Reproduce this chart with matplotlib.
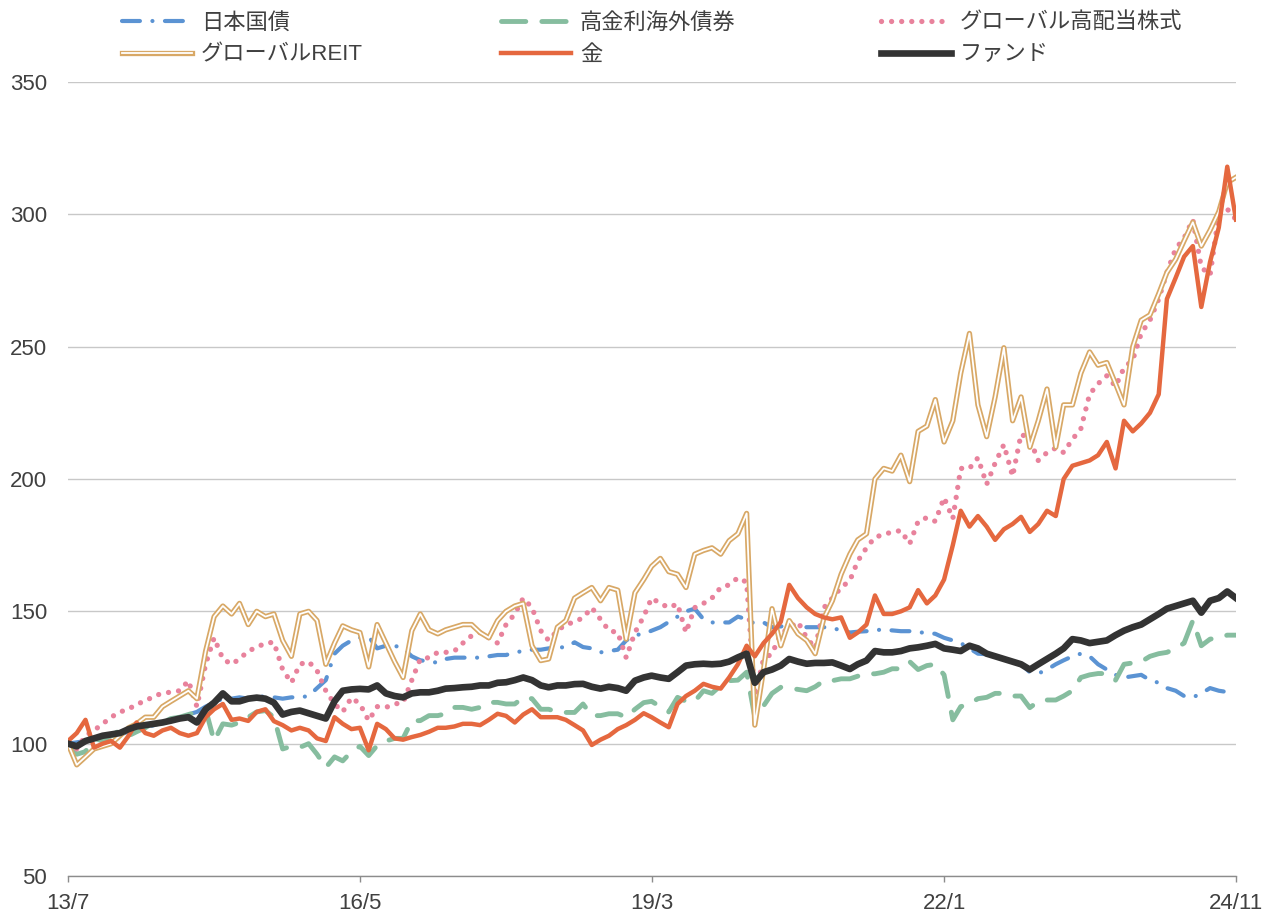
import matplotlib
matplotlib.use("Agg")
import matplotlib.pyplot as plt
import matplotlib.patheffects as pe
import pandas as pd

plt.rcParams['font.family'] = ['Liberation Sans', 'Noto Sans CJK JP']

# 月次データ（2013/7 = 100）
dates = pd.date_range('2013-07-01', periods=137, freq='MS')

jgb = [100, 100.5, 101, 101.5, 102, 103, 103.5, 104.5, 105.5, 106, 107, 108,
       108.5, 110, 111, 112, 114, 115.5, 117, 117, 117.5, 117, 117.5, 118,
       117.5, 117, 117.5, 117.5, 118, 121, 124, 134, 137, 139, 140, 140.5,
       136, 137, 137, 136, 133, 131.5, 131, 130.6, 132, 132.5, 132.5, 132.5,
       132.5, 133, 133.5, 133.5, 134.5, 135, 135.5, 135.5, 136, 136.4, 136.4, 138.3,
       136.5, 136, 134.5, 135, 135.5, 139, 141, 141.5, 142.7, 144, 146, 148,
       150, 151, 147, 145.8, 145.8, 145.8, 148, 147, 145.3, 145.8, 144, 144.3,
       144.5, 144.2, 144, 144, 144, 143.5, 143, 142, 142.3, 142.5, 143, 143,
       142.8, 142.5, 142.5, 142, 142, 141.5, 140, 139, 138, 136, 134, 133.8,
       133, 132, 131, 130, 127, 126.5, 128, 130, 131.5, 133, 134, 133,
       130, 128, 126, 125, 125.5, 126, 124, 123, 121, 120, 118, 117.5,
       119, 121, 120, 119.5, 119]

hy_bond = [100, 96, 97, 102, 101, 103, 105, 103, 104.5, 106, 108, 108,
           109.5, 110, 111, 112, 113, 101, 107.5, 107, 108, 110, 112, 112.5,
           110, 98, 99, 98.6, 100, 96, 91, 95, 93.5, 97, 99, 95.5,
           99.3, 101, 102, 102, 108.7, 108.7, 110.6, 110.6, 111.3, 113.7, 113.7, 113,
           113.7, 115.6, 115.6, 115, 115, 117.5, 117, 113, 113, 112, 111.8, 111.8,
           115, 110.6, 110.6, 111.3, 111.3, 110, 113, 115.5, 116, 114, 112, 117.5,
           116, 116, 120, 119, 122, 123.8, 124, 127, 110, 114.3, 119, 121.3,
           121, 120.5, 120, 121.5, 123.8, 123.8, 124.5, 124.5, 125.5, 126.4, 126.4, 127,
           128.3, 128.3, 131, 128, 129.5, 130, 126, 109, 114, 115, 117, 117.5,
           119, 119, 118, 118, 113.6, 116, 116.5, 116.5, 118, 120, 125, 126,
           126.5, 126.5, 124, 130, 130.5, 131, 133, 134, 134.5, 136, 138, 146.5,
           137, 139.5, 140, 141, 141]

div_eq = [100, 98, 103, 105, 107.5, 110, 112, 113, 115, 116, 118, 119,
          119.5, 120, 123.8, 114, 130, 140, 132, 130, 132, 135, 136.4, 138,
          138.3, 128, 123, 130, 131, 127.6, 120, 115, 112, 117.4, 115, 108.7,
          114, 113.7, 115, 115.5, 124, 132, 132.5, 134.5, 134.5, 135, 138, 140.8,
          142, 140, 138, 145, 149, 155, 151.4, 142.7, 139, 142.7, 145, 146,
          147.6, 151.4, 147, 142.7, 142, 132.5, 142, 148, 155, 153, 151.4, 152.8,
          142, 151.4, 153, 155, 159, 160, 162.7, 161, 118, 132, 134, 141.5,
          143.8, 146, 140, 136, 151.4, 155, 159, 161.6, 169, 174, 178, 179,
          180, 180.5, 175.5, 184, 185.4, 184, 193, 185, 204, 204, 208, 198,
          206, 213, 201, 217, 215, 207, 210, 211.7, 210, 215, 219, 232,
          236, 239, 235, 242, 245, 255, 260, 268, 278, 287, 291, 298,
          280, 277, 300, 302, 298]

reit = [100, 92, 95, 98, 99, 100, 103, 106, 107.5, 110, 110, 114,
        116, 118, 120, 117, 135, 148, 152, 149, 153, 145, 150, 148,
        149, 139, 133, 149, 150, 146.5, 130, 138, 144.5, 143, 142, 129,
        145, 138, 131, 125, 142.7, 149, 143, 141.5, 143, 144, 145, 145,
        142, 140, 146.5, 150, 152, 153, 137, 131.4, 132, 144, 146.5, 155,
        157, 159, 154, 159, 158, 139.5, 157, 162, 167, 170, 165, 164,
        159, 171.6, 173, 174, 171.6, 176.7, 179.3, 187, 107, 128, 151, 137,
        146.5, 141.5, 139, 134, 147.5, 154, 164, 171.6, 177, 179.3, 200, 204,
        203, 209, 199, 218, 220, 230, 214, 222, 240, 255, 228, 216,
        231, 249.6, 222, 231, 212, 222, 234, 212, 228, 228, 240, 248,
        243, 244, 236, 228, 250, 260, 262, 270, 278, 283, 290, 297,
        288, 294, 301, 312, 314]

gold = [101, 104, 109, 98.5, 100, 101, 98.5, 103, 108, 104, 103, 105,
        106, 104, 103, 104, 110, 113, 115, 109, 109.5, 108.6, 112, 113,
        108.5, 107, 105, 106, 105, 102, 101, 110, 107.5, 105.5, 106, 97.5,
        107.5, 105.5, 102, 101.5, 102.5, 103.3, 104.5, 106, 106, 106.5, 107.5, 107.5,
        107, 109, 111.3, 110.5, 108, 111, 113, 110, 110, 110, 109, 107,
        105, 99.5, 101.5, 103, 105.5, 107, 109, 111.5, 110, 108, 106.2, 115,
        118, 120, 122.6, 121.5, 120.8, 125, 130, 137, 133, 138, 141.5, 146,
        160, 155, 151.5, 149, 147.7, 147, 147.7, 140, 142, 145, 156, 149,
        149, 150, 151.5, 158, 153, 156, 162, 175, 188, 182, 186, 182,
        177, 181, 183, 185.7, 180, 183, 188, 186, 200, 205, 206, 207,
        209, 214, 204, 222, 218, 221, 225, 232, 268, 276, 284, 288,
        265, 282, 295, 318, 298]

fund = [100, 99, 101, 102, 103, 103.5, 104, 105.5, 106.5, 107, 107.5, 108,
        108.7, 109.5, 110, 108, 113, 115.5, 119, 116, 116, 117, 117.4, 117,
        115.5, 111, 112, 112.5, 111.5, 110.5, 109.5, 116, 120, 120.5, 120.7, 120.5,
        122, 119, 118, 117.5, 119, 119.4, 119.4, 120, 120.8, 121, 121.3, 121.5,
        122, 122, 123, 123.2, 124, 125, 124, 122, 121.3, 122, 122, 122.5,
        122.6, 121.5, 120.8, 121.5, 121, 120, 123.8, 125, 125.7, 125, 124.5, 127,
        129.5, 130, 130.2, 130, 130.2, 131, 132.6, 134, 123, 127, 128, 129.5,
        132, 131, 130.2, 130.5, 130.5, 130.7, 129.5, 128.2, 130, 131.4, 135, 134.5,
        134.5, 135, 136, 136.4, 137, 137.7, 136, 135.5, 135, 137, 136, 134,
        133, 132, 131, 130, 128, 130, 132, 134, 136, 139.5, 139, 138,
        138.5, 139, 141, 142.7, 144, 145, 147, 149, 151, 152, 153, 154,
        149.5, 154, 155, 157.5, 155]

tick_dates = ['2013-07-01', '2016-05-01', '2019-03-01', '2022-01-01', '2024-11-01']
tick_labels = ['13/7', '16/5', '19/3', '22/1', '24/11']

fig = plt.figure(figsize=(12.72, 9.14), dpi=100)
ax = fig.add_axes([68/1272, 38/914, 1168/1272, 794/914])

l1, = ax.plot(dates, jgb, color='#5B93D3', lw=3, dashes=(4.3, 3, 0.01, 3),
              dash_capstyle='round', label='日本国債')
l2, = ax.plot(dates, hy_bond, color='#86BD9F', lw=3.5, dashes=(5, 3.3),
              dash_capstyle='round', label='高金利海外債券')
l3, = ax.plot(dates, div_eq, color='#E8829C', lw=3.8, dashes=(0.01, 1.9),
              dash_capstyle='round', label='グローバル高配当株式')
l4, = ax.plot(dates, reit, color='white', lw=1.3, label='グローバルREIT',
              path_effects=[pe.Stroke(linewidth=3.8, foreground='#D8A866'), pe.Normal()])
l5, = ax.plot(dates, gold, color='#E5683F', lw=3.2, label='金')
l6, = ax.plot(dates, fund, color='#333333', lw=4.8, label='ファンド')

ax.set_ylim(50, 350)
ax.set_yticks(range(50, 351, 50))
ax.set_xlim(dates[0], dates[-1])
ax.set_xticks(pd.to_datetime(tick_dates))
ax.set_xticklabels(tick_labels)

ax.yaxis.grid(True, color='#C8C8C8', lw=1)
ax.set_axisbelow(True)
for s in ['left', 'right', 'top']:
    ax.spines[s].set_visible(False)
ax.spines['bottom'].set_color('#8C8C8C')
ax.spines['bottom'].set_linewidth(1)
ax.tick_params(axis='y', length=0, pad=15, labelsize=16, labelcolor='#404040')
ax.tick_params(axis='x', length=4.5, width=1, color='#8C8C8C', pad=8,
               labelsize=16, labelcolor='#404040')

# 凡例（3列を個別に配置）
cols = [([l1, l4], 122), ([l2, l5], 501), ([l3, l6], 881)]
for hs, x0 in cols:
    leg = fig.legend(handles=hs, loc='upper left', bbox_to_anchor=(x0/1272, 0.9865),
                     frameon=False, fontsize=16, handlelength=3.15,
                     handletextpad=0.4, labelspacing=0.5, borderpad=0,
                     borderaxespad=0)
    for t in leg.get_texts():
        t.set_color('#404040')

fig.savefig('out.png', dpi=100)
